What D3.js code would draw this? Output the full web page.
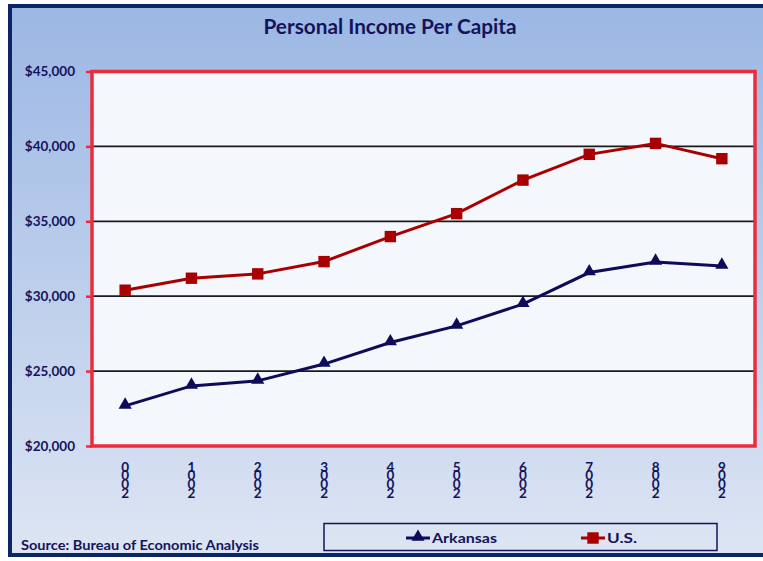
<!DOCTYPE html>
<html>
<head>
<meta charset="utf-8">
<script src="https://cdn.jsdelivr.net/npm/d3@7"></script>
<style>
  html, body { margin: 0; padding: 0; background: #ffffff; }
  svg { display: block; }
  text { font-family: Lato, "Open Sans", sans-serif; font-weight: bold; }
</style>
</head>
<body>
<svg id="chart" width="763" height="561"></svg>
<script>
const years = ["2000","2001","2002","2003","2004","2005","2006","2007","2008","2009"];
const arkansas = [22680, 24010, 24350, 25470, 26910, 28020, 29470, 31580, 32290, 32020];
const us = [30400, 31200, 31490, 32310, 33980, 35510, 37750, 39470, 40200, 39180];
const yTicks = [20000, 25000, 30000, 35000, 40000, 45000];
const seriesNames = ["Arkansas", "U.S."];
const titleText = "Personal Income Per Capita";
const sourceText = "Source: Bureau of Economic Analysis";

const svg = d3.select("#chart");
const navy = "#0b2566";
const textNavy = "#14145c";
const arkColor = "#0e0c58";
const usColor = "#a80000";
const red = "#ee2b3b";

// background gradient
const defs = svg.append("defs");
const grad = defs.append("linearGradient").attr("id", "bg").attr("x1", 0).attr("y1", 0).attr("x2", 0).attr("y2", 1);
grad.append("stop").attr("offset", "0%").attr("stop-color", "#9bb7e4");
grad.append("stop").attr("offset", "100%").attr("stop-color", "#dde5f3");

svg.append("rect").attr("x", 10).attr("y", 6).attr("width", 800).attr("height", 549)
  .attr("fill", "url(#bg)").attr("stroke", navy).attr("stroke-width", 4);

// title
svg.append("text").attr("x", 390).attr("y", 34).attr("text-anchor", "middle")
  .attr("font-size", 20).attr("fill", textNavy)
  .attr("textLength", 253).attr("lengthAdjust", "spacingAndGlyphs")
  .text(titleText);

const plot = { left: 92, right: 755, top: 71.5, bottom: 446 };

const x = d3.scaleBand().domain(years).range([plot.left, plot.right]).padding(0);
const y = d3.scaleLinear().domain([20000, 45000]).range([plot.bottom, plot.top]);

// plot background
svg.append("rect").attr("x", plot.left).attr("y", plot.top)
  .attr("width", plot.right - plot.left).attr("height", plot.bottom - plot.top)
  .attr("fill", "#f4f7fb");

// gridlines
svg.append("g").selectAll("line").data(yTicks.filter(d => d > 20000 && d < 45000)).join("line")
  .attr("x1", plot.left).attr("x2", plot.right)
  .attr("y1", d => y(d)).attr("y2", d => y(d))
  .attr("stroke", "#1a1a1a").attr("stroke-width", 1.8);

// y axis
const yAxis = svg.append("g").attr("transform", `translate(${plot.left},0)`)
  .call(d3.axisLeft(y).tickValues(yTicks).tickSize(6).tickPadding(11).tickFormat(d3.format("$,.0f")));
yAxis.select(".domain").remove();
yAxis.selectAll(".tick line").attr("stroke", red).attr("stroke-width", 2.5);
yAxis.selectAll(".tick text").attr("fill", textNavy).attr("font-size", 13.5)
  .attr("font-family", "Lato, sans-serif").attr("font-weight", "bold");

// plot border
svg.append("rect").attr("x", plot.left).attr("y", plot.top)
  .attr("width", plot.right - plot.left).attr("height", plot.bottom - plot.top)
  .attr("fill", "none").attr("stroke", red).attr("stroke-width", 3.5);

// x labels: stacked characters, read bottom-to-top
const xl = svg.append("g");
years.forEach(yr => {
  const chars = yr.split("").reverse();
  const t = xl.append("text").attr("text-anchor", "middle").attr("font-size", 13.5)
    .attr("fill", textNavy);
  chars.forEach((c, i) => {
    t.append("tspan").attr("x", x(yr) + x.bandwidth() / 2).attr("y", 471.5 + i * 8.9).text(c);
  });
});

// lines
const line = d3.line().x((d, i) => x(years[i]) + x.bandwidth() / 2).y(d => y(d));
svg.append("path").datum(us).attr("d", line).attr("fill", "none")
  .attr("stroke", usColor).attr("stroke-width", 3);
svg.append("path").datum(arkansas).attr("d", line).attr("fill", "none")
  .attr("stroke", arkColor).attr("stroke-width", 3);

const sq = d3.symbol().type(d3.symbolSquare).size(130);
const tri = d3.symbol().type(d3.symbolTriangle).size(75);
svg.append("g").selectAll("path").data(us).join("path")
  .attr("d", sq).attr("fill", usColor)
  .attr("transform", (d, i) => `translate(${x(years[i]) + x.bandwidth() / 2},${y(d)})`);
svg.append("g").selectAll("path").data(arkansas).join("path")
  .attr("d", tri).attr("fill", arkColor)
  .attr("transform", (d, i) => `translate(${x(years[i]) + x.bandwidth() / 2},${y(d) - 1})`);

// source
svg.append("text").attr("x", 21).attr("y", 550).attr("font-size", 12.5).attr("fill", textNavy)
  .attr("textLength", 238).attr("lengthAdjust", "spacingAndGlyphs")
  .text(sourceText);

// legend
svg.append("rect").attr("x", 324).attr("y", 523.5).attr("width", 393).attr("height", 27)
  .attr("fill", "none").attr("stroke", "#14145c").attr("stroke-width", 1.5);
const legendItems = [
  { name: seriesNames[0], color: arkColor, sym: tri, x0: 406, w: 65, dy: -1 },
  { name: seriesNames[1], color: usColor, sym: sq, x0: 581, w: 30, dy: 0 }
];
legendItems.forEach(it => {
  svg.append("line").attr("x1", it.x0).attr("x2", it.x0 + 24).attr("y1", 538).attr("y2", 538)
    .attr("stroke", it.color).attr("stroke-width", 3);
  svg.append("path").attr("d", it.sym).attr("fill", it.color)
    .attr("transform", `translate(${it.x0 + 12},${538 + it.dy})`);
  svg.append("text").attr("x", it.x0 + 26).attr("y", 543).attr("font-size", 14).attr("fill", textNavy)
    .attr("textLength", it.w).attr("lengthAdjust", "spacingAndGlyphs")
    .text(it.name);
});
</script>
</body>
</html>
